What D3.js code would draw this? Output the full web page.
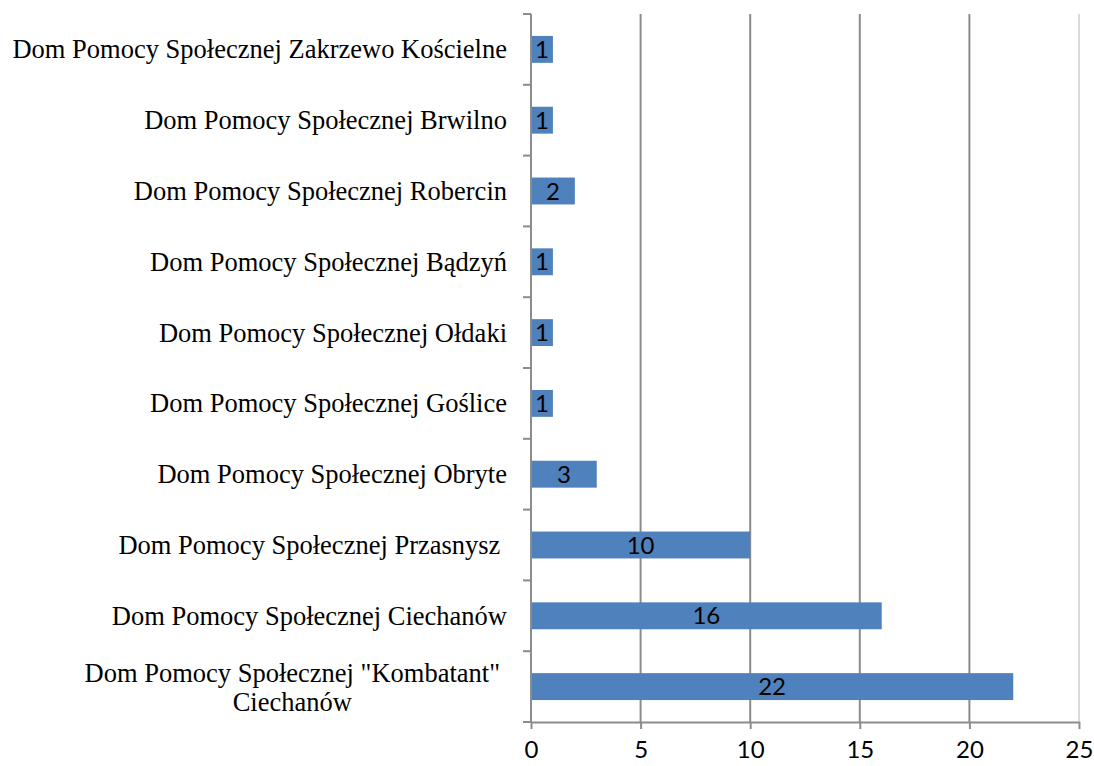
<!DOCTYPE html>
<html>
<head>
<meta charset="utf-8">
<script src="https://cdn.jsdelivr.net/npm/d3@7"></script>
<style>
  body { margin: 0; background: #fff; }
  svg { display: block; }
</style>
</head>
<body>
<script>
// data, top to bottom
var categories = [
  "Dom Pomocy Społecznej Zakrzewo Kościelne",
  "Dom Pomocy Społecznej Brwilno",
  "Dom Pomocy Społecznej Robercin",
  "Dom Pomocy Społecznej Bądzyń",
  "Dom Pomocy Społecznej Ołdaki",
  "Dom Pomocy Społecznej Goślice",
  "Dom Pomocy Społecznej Obryte",
  "Dom Pomocy Społecznej Przasnysz ",
  "Dom Pomocy Społecznej Ciechanów",
  "Dom Pomocy Społecznej \"Kombatant\"\nCiechanów"
];
var values = [1, 1, 2, 1, 1, 1, 3, 10, 16, 22];
var xTicks = [0, 5, 10, 15, 20, 25];

var width = 1094, height = 766;
var margin = {top: 14, right: 15, bottom: 44, left: 531};

var svg = d3.select("body")
    .append("svg")
    .attr("width", width)
    .attr("height", height);

var x = d3.scaleLinear()
    .domain([0, 25])
    .range([margin.left, width - margin.right]);

var y = d3.scaleBand()
    .domain(categories)
    .range([margin.top, height - margin.bottom])
    .paddingInner(0.62)
    .paddingOuter(0.31);

var plotBottom = height - margin.bottom;
var sansFont = "Lato, 'Open Sans', sans-serif";

// vertical gridlines
svg.selectAll(".grid")
    .data(xTicks.slice(1))
    .enter()
    .append("line")
    .attr("class", "grid")
    .attr("x1", function(d) { return x(d); })
    .attr("x2", function(d) { return x(d); })
    .attr("y1", margin.top)
    .attr("y2", plotBottom)
    .style("stroke", function(d) { return d === 25 ? "#d9d9d9" : "#8c8c8c"; })
    .style("stroke-width", 2);

// bars
var bars = svg.selectAll(".bar")
    .data(categories)
    .enter()
    .append("g")
    .attr("class", "bar");

bars.append("rect")
    .attr("x", x(0))
    .attr("y", function(d) { return y(d); })
    .attr("width", function(d, i) { return x(values[i]) - x(0); })
    .attr("height", y.bandwidth())
    .style("fill", "#4f81bd");

bars.append("text")
    .attr("x", function(d, i) { return (x(0) + x(values[i])) / 2; })
    .attr("y", function(d) { return y(d) + y.bandwidth() / 2; })
    .attr("dy", "0.36em")
    .style("text-anchor", "middle")
    .style("font-family", sansFont)
    .style("font-size", "24px")
    .style("fill", "#000")
    .text(function(d, i) { return values[i]; });

// x axis
var xAxis = svg.append("g")
    .attr("transform", "translate(0," + plotBottom + ")")
    .call(d3.axisBottom(x).tickValues(xTicks).tickSize(7).tickSizeOuter(0).tickPadding(12));

xAxis.select(".domain").style("stroke", "#8c8c8c").style("stroke-width", 2);
xAxis.selectAll(".tick line").style("stroke", "#8c8c8c").style("stroke-width", 2);
xAxis.selectAll(".tick text")
    .style("font-family", sansFont)
    .style("font-size", "24px")
    .style("fill", "#000");

// y axis line and boundary ticks
var step = y.step();
var bounds = d3.range(categories.length + 1).map(function(i) { return margin.top + i * step; });

svg.append("line")
    .attr("x1", x(0)).attr("x2", x(0))
    .attr("y1", margin.top).attr("y2", plotBottom)
    .style("stroke", "#8c8c8c")
    .style("stroke-width", 2);

svg.selectAll(".ytick")
    .data(bounds)
    .enter()
    .append("line")
    .attr("class", "ytick")
    .attr("x1", x(0) - 8).attr("x2", x(0))
    .attr("y1", function(d) { return d; })
    .attr("y2", function(d) { return d; })
    .style("stroke", "#8c8c8c")
    .style("stroke-width", 2);

// category labels
var labelX = x(0) - 24;
var labels = svg.selectAll(".cat")
    .data(categories)
    .enter()
    .append("text")
    .attr("class", "cat")
    .style("font-family", "'Liberation Serif', 'Times New Roman', serif")
    .style("font-size", "26.5px")
    .style("fill", "#000")
    .style("white-space", "pre")
    .attr("text-anchor", "end")
    .attr("x", labelX)
    .attr("y", function(d) { return y(d) + y.bandwidth() / 2; })
    .attr("dy", "0.34em")
    .text(function(d) { return d.indexOf("\n") < 0 ? d : null; });

// two-line label, centered block
labels.filter(function(d) { return d.indexOf("\n") >= 0; })
    .each(function(d) {
        var lines = d.split("\n");
        var el = d3.select(this).attr("dy", null).attr("text-anchor", "middle");
        var cy = y(d) + y.bandwidth() / 2;
        var first = el.append("tspan").text(lines[0]);
        var w = first.node().getComputedTextLength();
        var cx = labelX - 7 - w / 2;
        first.attr("x", cx).attr("y", cy - 5);
        el.append("tspan").attr("x", cx).attr("y", cy + 24).text(lines[1]);
    });
</script>
</body>
</html>
